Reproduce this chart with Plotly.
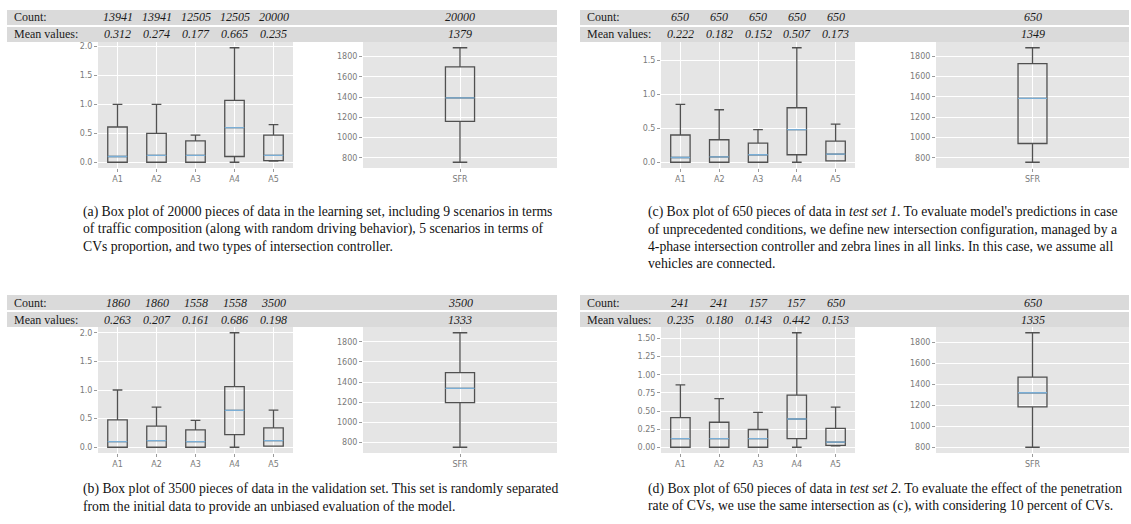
import plotly.graph_objects as go

W, H = 1131, 524

cats = ["A1", "A2", "A3", "A4", "A5"]
positions = [1, 2, 3, 4, 5]

# (a) learning set
a_count = [13941, 13941, 12505, 12505, 20000]
a_mean = ["0.312", "0.274", "0.177", "0.665", "0.235"]
a_sfr_count = 20000
a_sfr_mean = 1379
a_low = [0.0, 0.0, 0.0, 0.0, 0.02]
a_q1 = [0.0, 0.0, 0.0, 0.10, 0.03]
a_med = [0.10, 0.12, 0.12, 0.60, 0.12]
a_q3 = [0.61, 0.50, 0.37, 1.07, 0.47]
a_high = [1.0, 1.0, 0.47, 1.98, 0.65]
a_sfr = [755, 1159, 1392, 1699, 1888]  # low, q1, median, q3, high

# (b) validation set
b_count = [1860, 1860, 1558, 1558, 3500]
b_mean = ["0.263", "0.207", "0.161", "0.686", "0.198"]
b_sfr_count = 3500
b_sfr_mean = 1333
b_low = [0.0, 0.0, 0.0, 0.0, 0.02]
b_q1 = [0.0, 0.0, 0.0, 0.22, 0.02]
b_med = [0.10, 0.115, 0.10, 0.645, 0.115]
b_q3 = [0.48, 0.37, 0.305, 1.06, 0.34]
b_high = [1.0, 0.70, 0.47, 2.0, 0.65]
b_sfr = [752, 1196, 1338, 1493, 1890]

# (c) test set 1
c_count = [650, 650, 650, 650, 650]
c_mean = ["0.222", "0.182", "0.152", "0.507", "0.173"]
c_sfr_count = 650
c_sfr_mean = 1349
c_low = [0.0, 0.0, 0.0, 0.0, 0.02]
c_q1 = [0.0, 0.0, 0.0, 0.11, 0.02]
c_med = [0.07, 0.08, 0.11, 0.48, 0.12]
c_q3 = [0.40, 0.33, 0.28, 0.80, 0.31]
c_high = [0.85, 0.77, 0.48, 1.68, 0.56]
c_sfr = [755, 940, 1386, 1728, 1885]

# (d) test set 2
d_count = [241, 241, 157, 157, 650]
d_mean = ["0.235", "0.180", "0.143", "0.442", "0.153"]
d_sfr_count = 650
d_sfr_mean = 1335
d_low = [0.0, 0.0, 0.0, 0.0, 0.02]
d_q1 = [0.0, 0.0, 0.0, 0.12, 0.025]
d_med = [0.12, 0.12, 0.12, 0.39, 0.07]
d_q3 = [0.41, 0.345, 0.245, 0.72, 0.26]
d_high = [0.86, 0.67, 0.48, 1.58, 0.555]
d_sfr = [800, 1185, 1320, 1468, 1892]

cap_a = [
    "(a) Box plot of 20000 pieces of data in the learning set, including 9 scenarios in terms",
    "of traffic composition (along with random driving behavior), 5 scenarios in terms of",
    "CVs proportion, and two types of intersection controller.",
]
cap_b = [
    "(b) Box plot of 3500 pieces of data in the validation set. This set is randomly separated",
    "from the initial data to provide an unbiased evaluation of the model.",
]
cap_c = [
    "(c) Box plot of 650 pieces of data in <i>test set 1</i>. To evaluate model's predictions in case",
    "of unprecedented conditions, we define new intersection configuration, managed by a",
    "4-phase intersection controller and zebra lines in all links. In this case, we assume all",
    "vehicles are connected.",
]
cap_d = [
    "(d) Box plot of 650 pieces of data in <i>test set 2</i>. To evaluate the effect of the penetration",
    "rate of CVs, we use the same intersection as (c), with considering 10 percent of CVs.",
]

BOX_COLOR = "#505050"
MED_COLOR = "#7aaed6"
BAND_COLOR = "#dadada"
SERIF = "Liberation Serif"
TICK_FONT = dict(family="DejaVu Sans", size=8, color="#7a7a7a")
HEAD_FONT = dict(family=SERIF, size=12, color="#1a1a1a")


def fx(px):
    return px / W


def fy(py):
    return 1 - py / H


panels = [
    dict(n=1, band=(7, 557), top=10, left=(98, 293), right=(363, 557), cap_x=81, cap_y=212,
         count=a_count, mean=a_mean, sc=a_sfr_count, sm=a_sfr_mean,
         low=a_low, q1=a_q1, med=a_med, q3=a_q3, high=a_high, sfr=a_sfr,
         dtick=0.5, fmt=".1f", cap=cap_a),
    dict(n=3, band=(580, 1129), top=10, left=(661, 855), right=(936, 1129), cap_x=646, cap_y=212,
         count=c_count, mean=c_mean, sc=c_sfr_count, sm=c_sfr_mean,
         low=c_low, q1=c_q1, med=c_med, q3=c_q3, high=c_high, sfr=c_sfr,
         dtick=0.5, fmt=".1f", cap=cap_c),
    dict(n=5, band=(7, 557), top=295, left=(98, 293), right=(363, 557), cap_x=81, cap_y=489,
         count=b_count, mean=b_mean, sc=b_sfr_count, sm=b_sfr_mean,
         low=b_low, q1=b_q1, med=b_med, q3=b_q3, high=b_high, sfr=b_sfr,
         dtick=0.5, fmt=".1f", cap=cap_b),
    dict(n=7, band=(580, 1129), top=295, left=(661, 855), right=(936, 1129), cap_x=646, cap_y=489,
         count=d_count, mean=d_mean, sc=d_sfr_count, sm=d_sfr_mean,
         low=d_low, q1=d_q1, med=d_med, q3=d_q3, high=d_high, sfr=d_sfr,
         dtick=0.25, fmt=".2f", cap=cap_d),
]

fig = go.Figure()
shapes = []
annotations = []
layout_axes = {}


def axis_name(i, kind):
    return kind if i == 1 else f"{kind}{i}"


def add_boxes(xa, ya, xs, low, q1, med, q3, high, width):
    fig.add_trace(go.Box(
        x=xs, lowerfence=low, q1=q1, median=med, q3=q3, upperfence=high,
        width=width, whiskerwidth=0.5, boxpoints=False,
        line=dict(color=BOX_COLOR, width=1.3), fillcolor="rgba(0,0,0,0)",
        xaxis=xa, yaxis=ya, showlegend=False, hoverinfo="skip"))
    # blue median bar on top of each box
    fig.add_trace(go.Box(
        x=xs, lowerfence=med, q1=med, median=med, q3=med, upperfence=med,
        width=width, whiskerwidth=0.5, boxpoints=False,
        line=dict(color=MED_COLOR, width=1.3), fillcolor="rgba(0,0,0,0)",
        xaxis=xa, yaxis=ya, showlegend=False, hoverinfo="skip"))


for p in panels:
    nl, nr = p["n"], p["n"] + 1
    top = p["top"]
    y_top, y_bot = top + 32, top + 158

    # header bands
    for k in range(2):
        shapes.append(dict(type="rect", xref="paper", yref="paper",
                           x0=fx(p["band"][0]), x1=fx(p["band"][1]),
                           y0=fy(top + 17 * k + 15), y1=fy(top + 17 * k),
                           fillcolor=BAND_COLOR, line=dict(width=0), layer="below"))
    row_y = [fy(top + 7.5), fy(top + 24.5)]
    for label, ry in zip(["Count:", "Mean values:"], row_y):
        annotations.append(dict(text=label, xref="paper", yref="paper",
                                x=fx(p["band"][0] + 5), y=ry, xanchor="left", yanchor="middle",
                                showarrow=False, font=HEAD_FONT))

    xl, yl = axis_name(nl, "x"), axis_name(nl, "y")
    xr, yr = axis_name(nr, "x"), axis_name(nr, "y")

    for xv, cv, mv in zip(positions, p["count"], p["mean"]):
        annotations.append(dict(text=f"<i>{cv}</i>", xref=xl, yref="paper", x=xv, y=row_y[0],
                                xanchor="center", yanchor="middle", showarrow=False,
                                font=HEAD_FONT))
        annotations.append(dict(text=f"<i>{mv}</i>", xref=xl, yref="paper", x=xv, y=row_y[1],
                                xanchor="center", yanchor="middle", showarrow=False,
                                font=HEAD_FONT))
    annotations.append(dict(text=f"<i>{p['sc']}</i>", xref=xr, yref="paper", x=1, y=row_y[0],
                            xanchor="center", yanchor="middle", showarrow=False,
                            font=HEAD_FONT))
    annotations.append(dict(text=f"<i>{p['sm']}</i>", xref=xr, yref="paper", x=1, y=row_y[1],
                            xanchor="center", yanchor="middle", showarrow=False,
                            font=HEAD_FONT))

    add_boxes(xl, yl, positions, p["low"], p["q1"], p["med"], p["q3"], p["high"], 0.5)
    s = p["sfr"]
    add_boxes(xr, yr, [1], [s[0]], [s[1]], [s[2]], [s[3]], [s[4]], 0.15)

    lo, hi = min(p["low"]), max(p["high"])
    pad = 0.05 * (hi - lo)
    slo, shi = s[0], s[4]
    spad = 0.05 * (shi - slo)

    common = dict(showgrid=True, gridcolor="white", gridwidth=1, zeroline=False, showline=False,
                  ticks="outside", ticklen=3, tickcolor="#9a9a9a", tickfont=TICK_FONT)
    layout_axes[axis_name(nl, "xaxis")] = dict(
        domain=[fx(p["left"][0]), fx(p["left"][1])], anchor=yl, range=[0.5, 5.5],
        tickmode="array", tickvals=positions, ticktext=cats, **common)
    layout_axes[axis_name(nl, "yaxis")] = dict(
        domain=[fy(y_bot), fy(y_top)], anchor=xl, range=[lo - pad, hi + pad],
        dtick=p["dtick"], tick0=0, tickformat=p["fmt"], **common)
    layout_axes[axis_name(nr, "xaxis")] = dict(
        domain=[fx(p["right"][0]), fx(p["right"][1])], anchor=yr, range=[0.5, 1.5],
        tickmode="array", tickvals=[1], ticktext=["SFR"], **common)
    layout_axes[axis_name(nr, "yaxis")] = dict(
        domain=[fy(y_bot), fy(y_top)], anchor=xr, range=[slo - spad, shi + spad],
        dtick=200, tick0=0, **common)

    for i, line in enumerate(p["cap"]):
        annotations.append(dict(text=line, xref="paper", yref="paper",
                                x=fx(p["cap_x"]), y=fy(p["cap_y"] + 17.3 * i),
                                xanchor="left", yanchor="middle", showarrow=False,
                                font=dict(family=SERIF, size=13.7, color="#111")))

fig.update_layout(
    width=W, height=H, margin=dict(l=0, r=0, t=0, b=0),
    paper_bgcolor="white", plot_bgcolor="#e5e5e5",
    boxmode="overlay", showlegend=False,
    shapes=shapes, annotations=annotations, **layout_axes)

fig.write_html("out.html")
